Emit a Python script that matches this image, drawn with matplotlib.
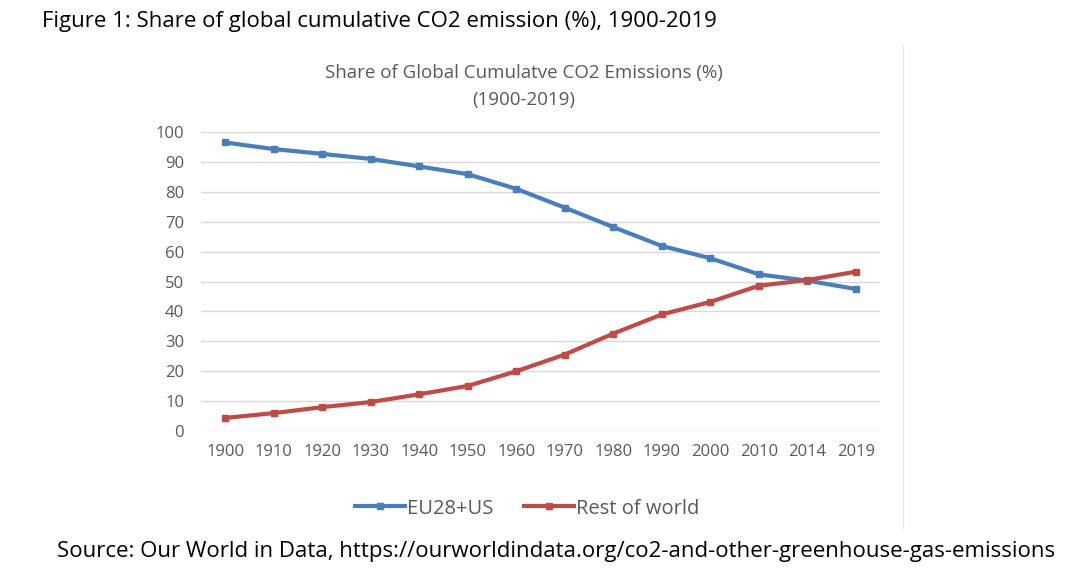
import matplotlib.pyplot as plt
from matplotlib.lines import Line2D

years = ["1900", "1910", "1920", "1930", "1940", "1950", "1960",
         "1970", "1980", "1990", "2000", "2010", "2014", "2019"]
eu_us = [96.5, 94.3, 92.7, 91.0, 88.5, 85.9, 81.0,
         74.7, 68.2, 61.9, 57.8, 52.4, 50.3, 47.5]
rest_of_world = [4.4, 6.0, 8.0, 9.7, 12.3, 15.1, 20.0,
                 25.6, 32.6, 39.0, 43.2, 48.6, 50.5, 53.3]

blue = "#4a7ebb"
red = "#be4b48"
gray = "#595959"

plt.rcParams["font.family"] = ["Open Sans", "DejaVu Sans"]

fig = plt.figure(figsize=(10.8, 5.74), dpi=100)
ax = fig.add_axes([0.186, 0.249, 0.629, 0.521])

x = list(range(len(years)))
ax.plot(x, eu_us, "-s", color=blue, lw=3, ms=5, label="EU28+US")
ax.plot(x, rest_of_world, "-s", color=red, lw=3, ms=5, label="Rest of world")

ax.set_xlim(-0.5, len(years) - 0.5)
ax.set_ylim(0, 100)
ax.set_yticks(range(0, 101, 10))
ax.set_xticks(x, years)
ax.grid(axis="y", color="#d9d9d9", lw=1)
ax.set_axisbelow(True)
for s in ax.spines.values():
    s.set_visible(False)
ax.tick_params(length=0, labelsize=12, labelcolor=gray)
ax.tick_params(axis="y", pad=12)
ax.tick_params(axis="x", pad=9)

ax.legend(loc="upper center", bbox_to_anchor=(0.48, -0.165), ncol=2, frameon=False,
          fontsize=14.5, labelcolor=gray, handlelength=2.5, handletextpad=0.1,
          columnspacing=1.5)

fig.text(0.039, 0.962, "Figure 1: Share of global cumulative CO2 emission (%), 1900-2019",
         fontsize=16, va="center", ha="left", color="black")
fig.text(0.485, 0.872, "Share of Global Cumulatve CO2 Emissions (%)",
         fontsize=13.5, color=gray, ha="center", va="center")
fig.text(0.485, 0.825, "(1900-2019)", fontsize=13.5, color=gray, ha="center", va="center")
fig.text(0.053, 0.040,
         "Source: Our World in Data, https://ourworldindata.org/co2-and-other-greenhouse-gas-emissions",
         fontsize=16, va="center", ha="left", color="black")

fig.add_artist(Line2D([0.836, 0.836], [0.08, 0.92], color="#e6e6e6", lw=1))

fig.savefig("out.png", dpi=100)
